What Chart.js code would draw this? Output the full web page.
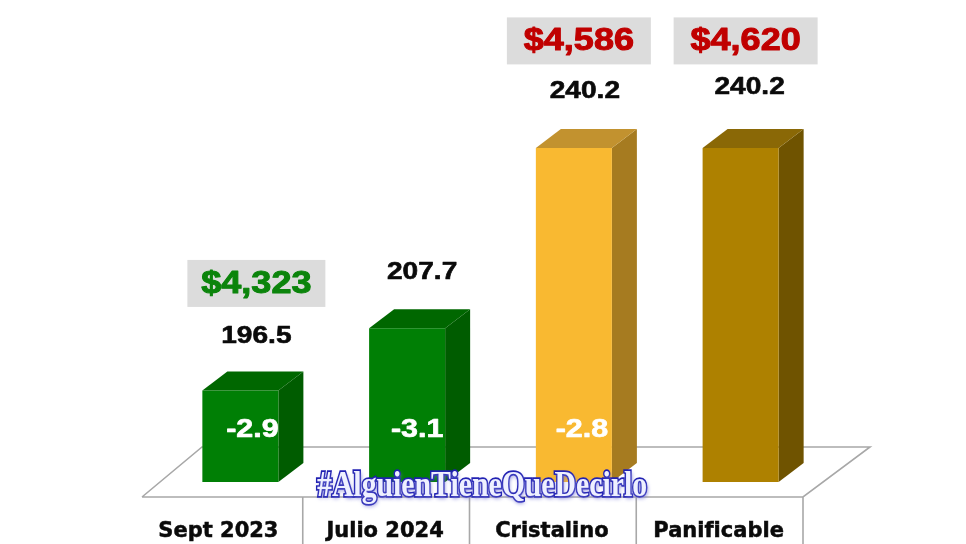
<!DOCTYPE html>
<html lang="es">

<head>
    <meta charset="UTF-8">
    <title>Precios</title>
    <script src="https://cdn.jsdelivr.net/npm/chart.js"></script>
    <style>
        body {
            margin: 0;
            background: #fff;
            overflow: hidden;
        }

        #wrap {
            position: relative;
            width: 966px;
            height: 544px;
        }

        #marca {
            position: absolute;
            left: 317px;
            top: 464px;
            font: bold 31px "Liberation Serif", serif;
            color: #eef0ff;
            white-space: nowrap;
            transform-origin: 0 0;
            transform: scale(0.96, 1.14);
            -webkit-text-stroke: 3px #1c1cb0;
            paint-order: stroke fill;
            text-shadow: 1px 2px 4px #6a6ad0;
        }
    </style>
</head>

<body>
    <div id="wrap">
        <canvas id="grafico" width="966" height="544"></canvas>
        <div id="marca">#AlguienTieneQueDecirlo</div>
    </div>

    <script>
        const categorias = ['Sept 2023', 'Julio 2024', 'Cristalino', 'Panificable'];
        const valores = [196.5, 207.7, 240.2, 240.2];
        const precios = ['$4,323', '', '$4,586', '$4,620'];
        const variacion = ['-2.9', '-3.1', '-2.8', ''];

        const colorFrente = ['#007f05', '#007f05', '#f9b931', '#ae8100'];
        const colorLado = ['#005c00', '#005c00', '#a67b20', '#6f5300'];
        const colorTapa = ['#006700', '#006700', '#c2922f', '#8a6806'];
        const colorPrecio = ['#0b840b', '', '#c00000', '#c00000'];

        // ajuste fino de los textos respecto a cada barra
        const ajustePrecioX = [16, 0, 5, 5];
        const ajusteValorX = [16, 15, 11, 9];
        const ajusteValorY = [-54, -56, -57, -61];
        const ajusteVarX = [12, 10, 8, 0];

        const PROF_X = 25, PROF_Y = 19;

        function textoAncho(ctx, txt, x, y, size, color, ancho, grosor) {
            ctx.save();
            ctx.translate(x, y);
            ctx.scale(ancho, 1);
            ctx.font = 'bold ' + size + 'px "Liberation Sans", Arial, sans-serif';
            ctx.textAlign = 'center';
            ctx.textBaseline = 'middle';
            ctx.fillStyle = color;
            ctx.strokeStyle = color;
            ctx.lineWidth = grosor;
            ctx.lineJoin = 'round';
            ctx.strokeText(txt, 0, 0);
            ctx.fillText(txt, 0, 0);
            ctx.restore();
        }

        const piso = {
            id: 'piso',
            beforeDatasetsDraw(chart) {
                const { ctx, chartArea: a } = chart;
                const izq = a.left - 15, der = a.right - 21;
                const frente = a.bottom + 15, fondo = a.bottom - 35;
                ctx.save();
                ctx.strokeStyle = '#a8a8a8';
                ctx.lineWidth = 1.6;
                ctx.beginPath();
                ctx.moveTo(izq, frente);
                ctx.lineTo(izq + 60, fondo);
                ctx.lineTo(der + 67, fondo);
                ctx.lineTo(der, frente);
                ctx.lineTo(izq, frente);
                // divisiones entre categorias
                const paso = (a.right - a.left) / categorias.length;
                for (let i = 1; i <= categorias.length; i++) {
                    const x = a.left - 21 + paso * i;
                    ctx.moveTo(x, frente);
                    ctx.lineTo(x, chart.height);
                }
                ctx.stroke();
                ctx.restore();
            }
        };

        const caras = {
            id: 'caras',
            beforeDatasetsDraw(chart) {
                const { ctx } = chart;
                const base = chart.scales.y.bottom;
                chart.getDatasetMeta(0).data.forEach((b, i) => {
                    const l = b.x - b.width / 2, r = b.x + b.width / 2;
                    ctx.fillStyle = colorLado[i];
                    ctx.beginPath();
                    ctx.moveTo(r, b.y);
                    ctx.lineTo(r + PROF_X, b.y - PROF_Y);
                    ctx.lineTo(r + PROF_X, base - PROF_Y);
                    ctx.lineTo(r, base);
                    ctx.closePath();
                    ctx.fill();
                    ctx.fillStyle = colorTapa[i];
                    ctx.beginPath();
                    ctx.moveTo(l, b.y);
                    ctx.lineTo(l + PROF_X, b.y - PROF_Y);
                    ctx.lineTo(r + PROF_X, b.y - PROF_Y);
                    ctx.lineTo(r, b.y);
                    ctx.closePath();
                    ctx.fill();
                });
            }
        };

        const etiquetas = {
            id: 'etiquetas',
            afterDatasetsDraw(chart) {
                const { ctx, chartArea: a } = chart;
                chart.getDatasetMeta(0).data.forEach((b, i) => {
                    textoAncho(ctx, valores[i].toFixed(1), b.x + ajusteValorX[i], b.y + ajusteValorY[i], 24, '#0a0a0a', 1.17, 0.6);
                    if (precios[i]) {
                        const cx = b.x + ajustePrecioX[i], cy = b.y - 107;
                        const w = i === 0 ? 138 : 144;
                        ctx.fillStyle = '#dcdcdc';
                        ctx.fillRect(cx - w / 2, cy - 23.5, w, 47);
                        textoAncho(ctx, precios[i], cx, cy + 1, 30.5, colorPrecio[i], 1.18, 1);
                    }
                    if (variacion[i]) {
                        textoAncho(ctx, variacion[i], b.x + ajusteVarX[i], a.bottom - 52, 26, '#ffffff', 1.17, 0.7);
                    }
                });
            }
        };

        new Chart(document.getElementById('grafico').getContext('2d'), {
            type: 'bar',
            data: {
                labels: categorias,
                datasets: [{
                    data: valores,
                    backgroundColor: colorFrente,
                    barPercentage: 0.456,
                    categoryPercentage: 1
                }]
            },
            plugins: [piso, caras, etiquetas],
            options: {
                responsive: false,
                animation: false,
                layout: { padding: { left: 157, right: 142, top: 0, bottom: 0 } },
                plugins: { legend: { display: false }, tooltip: { enabled: false } },
                scales: {
                    y: { display: false, min: 180, max: 266.85 },
                    x: {
                        border: { display: false },
                        grid: { display: false, drawTicks: false },
                        afterFit(scale) { scale.height = 62; },
                        ticks: {
                            color: '#0a0a0a',
                            padding: 37,
                            labelOffset: -22,
                            maxRotation: 0,
                            textStrokeColor: '#0a0a0a',
                            textStrokeWidth: 0.5,
                            font: { family: '"DejaVu Sans"', weight: 'bold', size: 21 }
                        }
                    }
                }
            }
        });
    </script>
</body>

</html>
